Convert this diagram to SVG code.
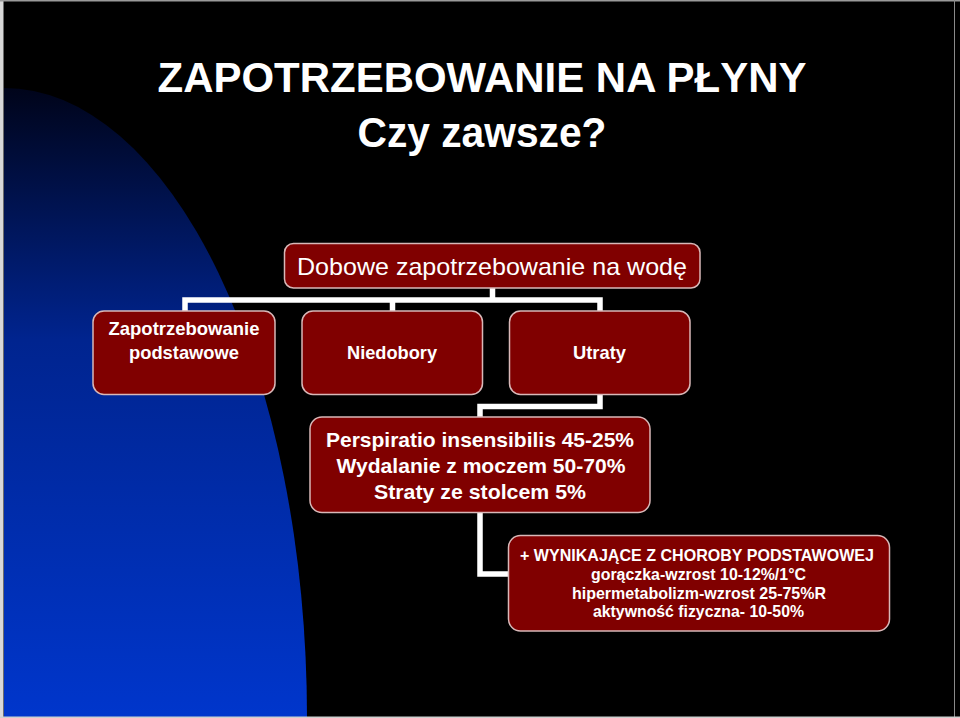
<svg xmlns="http://www.w3.org/2000/svg" width="960" height="718" viewBox="0 0 960 718">
<defs>
<linearGradient id="blueGrad" x1="0" y1="88" x2="0" y2="718" gradientUnits="userSpaceOnUse">
<stop offset="0" stop-color="#00041a"/>
<stop offset="0.4" stop-color="#00248f"/>
<stop offset="1" stop-color="#0036cc"/>
</linearGradient>
<style>
.box{fill:#800000;stroke:#d8b8b8;stroke-width:1.5}
.t{font-family:"Liberation Sans",Arial,sans-serif;fill:#ffffff;text-anchor:middle}
.b{font-weight:bold}
.conn{fill:none;stroke:#ffffff;stroke-width:5.5;stroke-linejoin:miter;stroke-linecap:butt}
</style>
</defs>
<rect x="0" y="0" width="960" height="718" fill="#000000"/>
<path d="M4,88 A303,630 0 0 1 307,718 L4,718 Z" fill="url(#blueGrad)"/>
<rect x="0" y="0" width="3.5" height="718" fill="#d8d8d8"/>
<rect x="0" y="0" width="960" height="1.5" fill="#9a9a9a"/>
<rect x="954" y="0" width="1" height="718" fill="#8a8a8a"/>
<rect x="0" y="716.5" width="960" height="1.5" fill="#cfcfcf"/>

<g id="title">
<text class="t b" x="482" y="92" font-size="43" textLength="649" lengthAdjust="spacingAndGlyphs">ZAPOTRZEBOWANIE NA PŁYNY</text>
<text class="t b" x="482" y="147" font-size="43" textLength="249" lengthAdjust="spacingAndGlyphs">Czy zawsze?</text>
</g>

<g id="connectors">
<path class="conn" d="M185,311 V300 H600 V311 M392.5,300 V311 M492.5,288 V300"/>
<path class="conn" d="M600,394 V406.5 H480 V417"/>
<path class="conn" d="M480,512 V574 H509"/>
</g>

<g id="node-root">
<rect class="box" x="284.5" y="243.5" width="415.5" height="44.5" rx="9"/>
<text class="t" x="492" y="275" font-size="24" textLength="390" lengthAdjust="spacingAndGlyphs">Dobowe zapotrzebowanie na wodę</text>
</g>

<g id="node-podstawowe">
<rect class="box" x="93" y="311" width="182" height="83.5" rx="11"/>
<text class="t b" x="184" y="335" font-size="19" textLength="151" lengthAdjust="spacingAndGlyphs">Zapotrzebowanie</text>
<text class="t b" x="184" y="359" font-size="19" textLength="110" lengthAdjust="spacingAndGlyphs">podstawowe</text>
</g>

<g id="node-niedobory">
<rect class="box" x="302" y="311" width="180.5" height="83.5" rx="11"/>
<text class="t b" x="392" y="359" font-size="19" textLength="90" lengthAdjust="spacingAndGlyphs">Niedobory</text>
</g>

<g id="node-utraty">
<rect class="box" x="509.5" y="311" width="180.5" height="83.5" rx="11"/>
<text class="t b" x="599.5" y="359" font-size="19" textLength="53" lengthAdjust="spacingAndGlyphs">Utraty</text>
</g>

<g id="node-straty">
<rect class="box" x="310" y="417" width="340" height="95.5" rx="12"/>
<text class="t b" x="480" y="447" font-size="21" textLength="308" lengthAdjust="spacingAndGlyphs">Perspiratio insensibilis 45-25%</text>
<text class="t b" x="481" y="473" font-size="21" textLength="289" lengthAdjust="spacingAndGlyphs">Wydalanie z moczem 50-70%</text>
<text class="t b" x="480" y="498.5" font-size="21" textLength="212" lengthAdjust="spacingAndGlyphs">Straty ze stolcem 5%</text>
</g>

<g id="node-choroby">
<rect class="box" x="508.5" y="535.5" width="381" height="95.5" rx="12"/>
<text class="t b" x="697" y="561" font-size="16.5" textLength="354" lengthAdjust="spacingAndGlyphs">+ WYNIKAJĄCE Z CHOROBY PODSTAWOWEJ</text>
<text class="t b" x="698.5" y="580" font-size="16.5" textLength="215" lengthAdjust="spacingAndGlyphs">gorączka-wzrost 10-12%/1°C</text>
<text class="t b" x="699" y="598.5" font-size="16.5" textLength="254" lengthAdjust="spacingAndGlyphs">hipermetabolizm-wzrost 25-75%R</text>
<text class="t b" x="698.5" y="617" font-size="16.5" textLength="211" lengthAdjust="spacingAndGlyphs">aktywność fizyczna- 10-50%</text>
</g>
</svg>
